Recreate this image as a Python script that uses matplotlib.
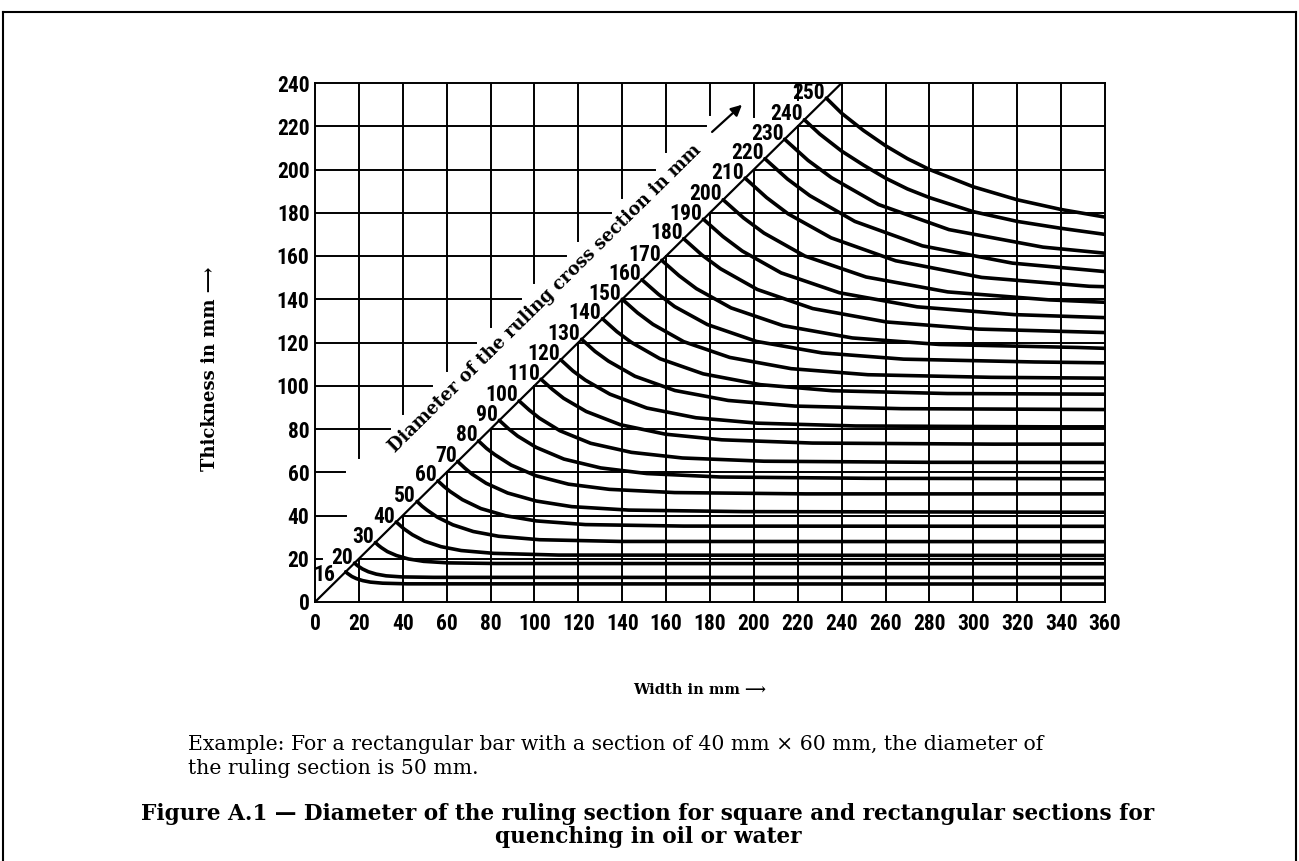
import matplotlib.pyplot as plt
from matplotlib.lines import Line2D

# --- 1. Data ---
DIAMETERS = [16, 20, 30, 40, 50, 60, 70, 80, 90, 100, 110, 120, 130,
             140, 150, 160, 170, 180, 190, 200, 210, 220, 230, 240, 250]

# square side where each curve leaves the diagonal
SQUARE_SIDE = [14, 18, 27.5, 37, 46.5, 56, 65, 74.5, 84, 93, 103, 112, 121.5,
               131, 140, 149, 158, 168, 177, 186, 196, 205, 214, 223, 233]

# width / thickness points along each curve (mm)
WIDTH_PTS = [
    [14, 14.7, 15.4, 16.8, 18.9, 21.7, 25.2, 30.8, 42, 360],
    [18, 18.9, 19.8, 21.6, 24.3, 27.9, 32.4, 39.6, 54, 360],
    [27.5, 28.9, 30.3, 33, 37.1, 42.6, 49.5, 60.5, 82.5, 360],
    [37, 38.9, 40.7, 44.4, 50, 57.4, 66.6, 81.4, 111, 360],
    [46.5, 48.8, 51.2, 55.8, 62.8, 72.1, 83.7, 102.3, 139.5, 360],
    [56, 58.8, 61.6, 67.2, 75.6, 86.8, 100.8, 123.2, 168, 360],
    [65, 68.3, 71.5, 78, 87.8, 100.8, 117, 143, 195, 360],
    [74.5, 78.2, 82, 89.4, 100.6, 115.5, 134.1, 163.9, 223.5, 360],
    [84, 88.2, 92.4, 100.8, 113.4, 130.2, 151.2, 184.8, 252, 360],
    [93, 97.7, 102.3, 111.6, 125.6, 144.2, 167.4, 204.6, 279, 360],
    [103, 108.2, 113.3, 123.6, 139.1, 159.7, 185.4, 226.6, 309, 360],
    [112, 117.6, 123.2, 134.4, 151.2, 173.6, 201.6, 246.4, 336, 360],
    [121.5, 127.6, 133.7, 145.8, 164, 188.3, 218.7, 267.3, 360],
    [131, 137.6, 144.1, 157.2, 176.9, 203, 235.8, 288.2, 360],
    [140, 147, 154, 168, 189, 217, 252, 308, 360],
    [149, 156.5, 163.9, 178.8, 201.2, 231, 268.2, 327.8, 360],
    [158, 165.9, 173.8, 189.6, 213.3, 244.9, 284.4, 347.6, 360],
    [168, 176.4, 184.8, 201.6, 226.8, 260.4, 302.4, 360],
    [177, 185.9, 194.7, 212.4, 239, 274.4, 318.6, 360],
    [186, 195.3, 204.6, 223.2, 251.1, 288.3, 334.8, 360],
    [196, 205.8, 215.6, 235.2, 264.6, 303.8, 352.8, 360],
    [205, 215.3, 225.5, 246, 276.8, 317.8, 360],
    [214, 224.7, 235.4, 256.8, 288.9, 331.7, 360],
    [223, 230, 240, 250, 260, 270, 280, 300, 320, 340, 360],
    [233, 240, 250, 260, 270, 280, 300, 320, 340, 360],
]
THICK_PTS = [
    [14, 13.3, 12.8, 11.8, 10.8, 9.9, 9.2, 8.7, 8.4, 8.3],
    [18, 17.2, 16.5, 15.3, 14, 12.9, 12.1, 11.6, 11.4, 11.3],
    [27.5, 26.2, 25.1, 23.3, 21.5, 19.9, 18.8, 18.1, 17.8, 17.7],
    [37, 35.3, 33.7, 31.1, 28.1, 25.6, 23.8, 22.5, 21.7, 21.5],
    [46.5, 44.3, 42.4, 39.2, 35.7, 32.6, 30.4, 28.8, 28, 27.9],
    [56, 53.4, 51.1, 47.3, 43.2, 39.9, 37.5, 35.8, 35.1, 35],
    [65, 61.9, 59.2, 54.9, 50.4, 46.7, 44.1, 42.5, 41.8, 41.5],
    [74.5, 71, 68.1, 63.3, 58.4, 54.5, 52.1, 50.6, 50, 50],
    [84, 80.1, 76.7, 71.5, 66.1, 62, 59.4, 57.8, 57.2, 57],
    [93, 88.7, 85, 79.2, 73.4, 69.2, 66.6, 65.1, 64.6, 64.5],
    [103, 98.3, 94.2, 88.1, 82, 77.6, 75, 73.5, 73, 73],
    [112, 106.8, 102.6, 96.1, 89.7, 85.2, 82.7, 81.4, 81, 81],
    [121.5, 115.9, 111.4, 104.4, 97.8, 93.2, 90.6, 89.4, 89],
    [131, 125, 120.1, 112.5, 105.5, 100.5, 97.7, 96.4, 96.1],
    [140, 133.7, 128.4, 120.4, 113.1, 107.9, 105.1, 103.9, 103.5],
    [149, 142.3, 136.6, 128.3, 120.5, 115.2, 112.3, 111, 110.6],
    [158, 150.9, 144.9, 136, 127.8, 122.1, 119.1, 117.7, 117.3],
    [168, 160.4, 154.1, 144.5, 135.7, 129.5, 126.2, 124.6],
    [177, 169, 162.3, 152.2, 143, 136.5, 132.9, 131.5],
    [186, 177.6, 170.6, 160, 150.3, 143.4, 139.7, 138.6],
    [196, 187, 179.5, 168.4, 157.8, 150.1, 146, 145.8],
    [205, 195.6, 187.9, 176, 164.7, 156.7, 152.8],
    [214, 204.2, 196.2, 183.8, 172.2, 164.1, 161.3],
    [223, 216.4, 208.5, 202, 196, 191, 187, 180.5, 176, 172.8, 170],
    [233, 226, 218, 211, 205, 200, 192, 186, 181.5, 178],
]

X_TICKS = list(range(0, 361, 20))
Y_TICKS = list(range(0, 241, 20))

# --- 2. Layout constants (grid is cleared where the diagonal caption sits) ---
H_LEFT_END = {20: 3, 40: 14, 60: 13.5, 80: 34, 100: 53.5, 120: 73.5,
              140: 94, 160: 114.5, 180: 135, 200: 155, 220: 178}
V_TOP_START = {20: 66.5, 40: 87, 60: 107, 80: 127, 100: 147.5, 120: 167,
               140: 187, 160: 208, 180: 225, 200: 224.5, 220: 232}
LABEL_SHIFT = {16: (-4.4, -4.0)}

NUM_FONT = ['Roboto Condensed', 'Liberation Sans Narrow', 'Liberation Sans', 'DejaVu Sans']
SERIF = ['DejaVu Serif', 'DejaVu Sans']
GRID_LW = 1.4
CURVE_LW = 2.6

W, H = 1299, 861
fig = plt.figure(figsize=(W / 100, H / 100), dpi=100)
ax = fig.add_axes([315 / W, 1 - 602 / H, 790 / W, 519 / H])
ax.set_xlim(0, 360)
ax.set_ylim(0, 240)

# grid lines
for y in Y_TICKS[1:-1]:
    ax.plot([y, 360], [y, y], color='black', lw=GRID_LW, zorder=1)
    ax.plot([0, H_LEFT_END[y]], [y, y], color='black', lw=GRID_LW, zorder=1)
for x in X_TICKS[1:-1]:
    ax.plot([x, x], [0, min(x, 240)], color='black', lw=GRID_LW, zorder=1)
    if x in V_TOP_START:
        ax.plot([x, x], [V_TOP_START[x], 240], color='black', lw=GRID_LW, zorder=1)

# diagonal
ax.plot([0, 240], [0, 240], color='black', lw=1.6, zorder=2)

# curves + labels
for d, s, xs, ts in zip(DIAMETERS, SQUARE_SIDE, WIDTH_PTS, THICK_PTS):
    ax.plot(xs, ts, color='black', lw=CURVE_LW, solid_capstyle='round',
            solid_joinstyle='round', zorder=3)
    dx, dy = LABEL_SHIFT.get(d, (0, 0))
    ax.text(s - 0.5 + dx, s + 2.5 + dy, str(d), ha='right', va='center',
            fontsize=15.5, family=NUM_FONT, fontweight='bold', zorder=4)

ax.text(106.2, 138.6, 'Diameter of the ruling cross section in mm', family=SERIF,
        fontsize=12.8, fontweight='bold', rotation=45, transform_rotates_text=True,
        rotation_mode='anchor', ha='center', va='baseline', zorder=4)
ax.annotate('', xy=(195.5, 230.8), xytext=(180, 216.5),
            arrowprops=dict(arrowstyle='-|>', color='black', lw=1.6,
                            mutation_scale=16))

ax.set_xticks(X_TICKS)
ax.set_yticks(Y_TICKS)
ax.set_xticklabels([str(v) for v in X_TICKS], family=NUM_FONT, fontsize=15.5,
                   fontweight='bold')
ax.set_yticklabels([str(v) for v in Y_TICKS], family=NUM_FONT, fontsize=15.5,
                   fontweight='bold')
ax.tick_params(length=0)
ax.tick_params(axis='x', pad=8)
ax.tick_params(axis='y', pad=4)
for sp in ax.spines.values():
    sp.set_linewidth(GRID_LW)

# axis titles
fig.text(210 / W, 1 - 369 / H, 'Thickness in mm \u27f6', rotation=90,
         ha='center', va='center', family=SERIF, fontsize=13, fontweight='bold')
fig.text(700 / W, 1 - 690 / H, 'Width in mm \u27f6', ha='center', va='center',
         family=SERIF, fontsize=10.5, fontweight='bold')

# caption
fig.text(188 / W, 1 - 745 / H,
         'Example: For a rectangular bar with a section of 40 mm \u00d7 60 mm, the diameter of',
         ha='left', va='center', family=SERIF, fontsize=14.7)
fig.text(188 / W, 1 - 768 / H, 'the ruling section is 50 mm.',
         ha='left', va='center', family=SERIF, fontsize=14.7)
fig.text(648 / W, 1 - 814 / H,
         'Figure A.1 \u2014 Diameter of the ruling section for square and rectangular sections for',
         ha='center', va='center', family=SERIF, fontsize=15.6, fontweight='bold')
fig.text(648 / W, 1 - 837 / H, 'quenching in oil or water',
         ha='center', va='center', family=SERIF, fontsize=15.6, fontweight='bold')

# page frame
fx0, fx1, fy1 = 3 / W, 1296 / W, 1 - 12 / H
for xs_, ys_ in [([fx0, fx0], [0, fy1]), ([fx0, fx1], [fy1, fy1]), ([fx1, fx1], [fy1, 0])]:
    fig.add_artist(Line2D(xs_, ys_, transform=fig.transFigure, color='black', lw=1.5))

fig.savefig('out.png', dpi=100)
